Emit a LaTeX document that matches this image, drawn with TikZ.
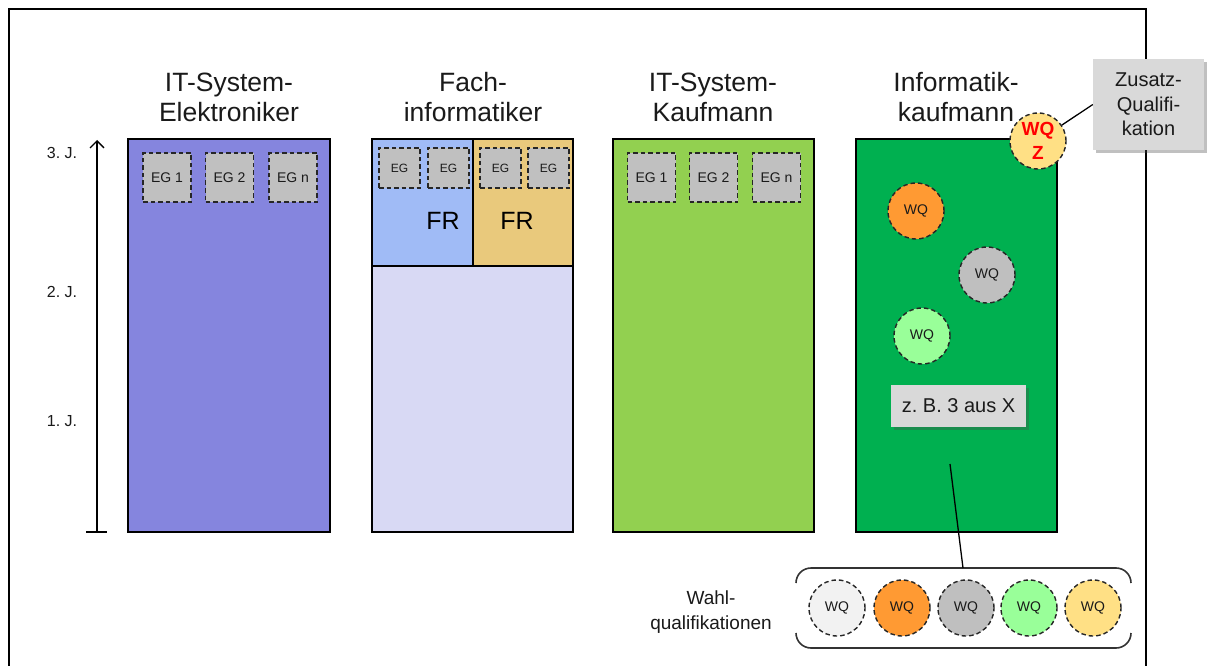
\documentclass[tikz,border=0pt]{standalone}
\usepackage{fontspec}
\setmainfont{Liberation Sans}
\usetikzlibrary{arrows.meta,fit,shadows}
\definecolor{cA}{HTML}{8585DE}
\definecolor{cBl}{HTML}{A0BBF6}
\definecolor{cBr}{HTML}{E9C97C}
\definecolor{cBb}{HTML}{D8D9F4}
\definecolor{cC}{HTML}{92D050}
\definecolor{cD}{HTML}{00B050}
\definecolor{cEG}{HTML}{C0C0C0}
\definecolor{cBox}{HTML}{D9D9D9}
\definecolor{cWhite}{HTML}{F2F2F2}
\definecolor{cOrange}{HTML}{FF9A33}
\definecolor{cGray}{HTML}{BFBFBF}
\definecolor{cGreen}{HTML}{99FF99}
\definecolor{cYellow}{HTML}{FFE085}
\definecolor{txt}{HTML}{1A1A1A}
\frenchspacing
\begin{document}
\begin{tikzpicture}[x=1pt,y=-1pt,
  col/.style={draw=black, line width=1.6pt, inner sep=0pt},
  title/.style={align=center, text=txt, font=\fontsize{26.5}{30}\selectfont},
  egbox/.style={draw=black!85, line width=1.4pt, dash pattern=on 4.5pt off 3pt, fill=cEG, text=txt, inner sep=0pt, font=\fontsize{14}{16}\selectfont},
  egsmall/.style={egbox, minimum width=41pt, minimum height=40pt, font=\fontsize{12}{14}\selectfont},
  egbig/.style={egbox, minimum width=48pt, minimum height=49pt},
  wq/.style={circle, draw=black!85, line width=1.4pt, dash pattern=on 4.5pt off 3pt, minimum size=56pt, inner sep=0pt, text=txt, font=\fontsize{14}{16}\selectfont},
  graybox/.style={fill=cBox, text=txt, inner sep=0pt, align=center, drop shadow={shadow xshift=3pt, shadow yshift=-3pt, opacity=0.35, fill=black!70}},
  lbl/.style={text=txt, font=\fontsize{16}{18}\selectfont},
  conn/.style={draw=black, line width=1.3pt}
]
\useasboundingbox (0,0) rectangle (1208,666);
\fill[white] (0,0) rectangle (1208,666);
% frame
\draw[line width=1.8pt] (9,666) -- (9,9) -- (1146,9) -- (1146,666);

% axis
\coordinate (ax0) at (97,532);
\coordinate (ax1) at (97,140);
\coordinate (tk0) at (86,532);
\coordinate (tk1) at (107,532);
\draw[line width=1.3pt, -{Straight Barb[length=7pt,width=14pt]}] (ax0) -- (ax1);
\draw[line width=1.3pt] (tk0) -- (tk1);
\node[lbl] (j3) at (62,153) {3. J.};
\node[lbl] (j2) at (62,292) {2. J.};
\node[lbl] (j1) at (62,421) {1. J.};

% titles
\node[title] (t1) at (229,97) {IT-System-\\Elektroniker};
\node[title] (t2) at (473,97) {Fach-\\informatiker};
\node[title] (t3) at (713,97) {IT-System-\\Kaufmann};
\node[title] (t4) at (956,97) {Informatik-\\kaufmann};

% column 1
\node[col, fill=cA, fit={(128,139) (330,532)}] (b1) {};
\node[egbig] (e11) at (167,177.5) {EG 1};
\node[egbig] (e12) at (229.5,177.5) {EG 2};
\node[egbig] (e13) at (293,177.5) {EG n};

% column 2
\node[col, fill=cBb, fit={(372,266) (573,532)}] (b2b) {};
\node[col, fill=cBl, fit={(372,139) (473,266)}] (b2l) {};
\node[col, fill=cBr, fit={(473,139) (573,266)}] (b2r) {};
\node[egsmall] (e21) at (399.5,168) {EG};
\node[egsmall] (e22) at (448.5,168) {EG};
\node[egsmall] (e23) at (500.5,168) {EG};
\node[egsmall] (e24) at (548.5,168) {EG};
\node[text=black, font=\fontsize{25}{28}\selectfont] (fr1) at (443,221) {FR};
\node[text=black, font=\fontsize{25}{28}\selectfont] (fr2) at (517,221) {FR};

% column 3
\node[col, fill=cC, fit={(613,139) (814,532)}] (b3) {};
\node[egbig] (e31) at (651.5,177.5) {EG 1};
\node[egbig] (e32) at (713.5,177.5) {EG 2};
\node[egbig] (e33) at (776.5,177.5) {EG n};

% column 4
\node[col, fill=cD, fit={(856,139) (1057,532)}] (b4) {};
\node[wq, fill=cOrange] (w1) at (916,211) {WQ};
\node[wq, fill=cGray] (w2) at (987,275) {WQ};
\node[wq, fill=cGreen] (w3) at (922,336) {WQ};
\node[graybox, minimum width=135pt, minimum height=42pt, font=\fontsize{20}{24}\selectfont] (zb) at (958.5,406) {z. B. 3 aus X};
\node[wq, fill=cYellow, text=red, font=\fontsize{19}{24}\selectfont\bfseries, align=center] (wqz) at (1038,141) {WQ\\Z};

% Zusatz box
\node[graybox, minimum width=111pt, minimum height=91pt, font=\fontsize{20}{24.5}\selectfont] (zq) at (1148.5,104.5) {Zusatz-\\Qualifi-\\kation};
\draw[conn] (zq.west) -- (wqz);

% Wahlqualifikationen
\node[align=center, text=txt, font=\fontsize{19}{25}\selectfont] (wl) at (711,612) {Wahl-\\qualifikationen};
\draw[line width=1.6pt, draw=black!80]
  (796,583) arc[start angle=180, end angle=270, radius=15] -- (1116,568) arc[start angle=270, end angle=360, radius=15];
\draw[line width=1.6pt, draw=black!80]
  (796,633) arc[start angle=180, end angle=90, radius=15] -- (1116,648) arc[start angle=90, end angle=0, radius=15];
\node[wq, fill=cWhite] (q1) at (837,608) {WQ};
\node[wq, fill=cOrange] (q2) at (902,608) {WQ};
\node[wq, fill=cGray] (q3) at (966,608) {WQ};
\node[wq, fill=cGreen] (q4) at (1029,608) {WQ};
\node[wq, fill=cYellow] (q5) at (1093,608) {WQ};

\coordinate (c1) at (950,464);
\coordinate (c2) at (963,568);
\draw[conn] (c1) -- (c2);
\end{tikzpicture}
\end{document}
